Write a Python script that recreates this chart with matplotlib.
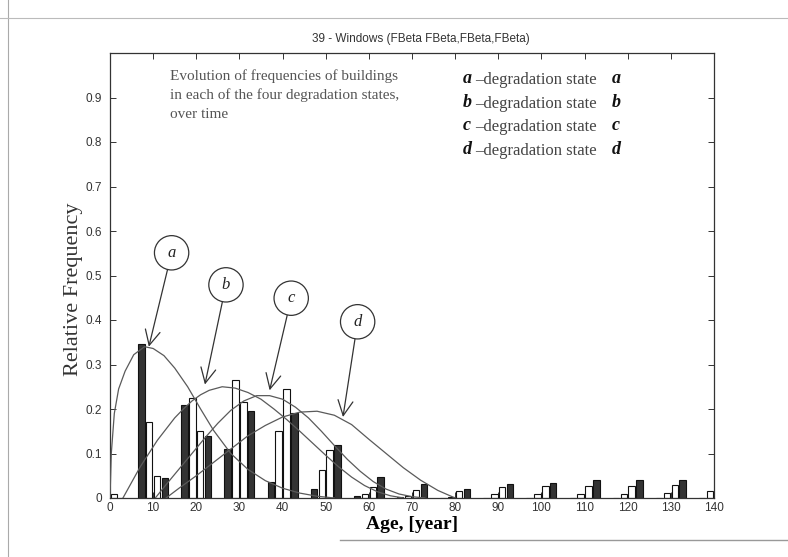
import matplotlib
matplotlib.use("Agg")
import matplotlib.pyplot as plt
from matplotlib.lines import Line2D
import numpy as np

SERIF = "Liberation Serif"
SANS = "Liberation Sans"

# ── bar data: relative frequency per degradation state, one group every 10 years
ages = [0, 10, 20, 30, 40, 50, 60, 70, 80, 90, 100, 110, 120, 130, 140]
freq_a = [0.0, 0.345, 0.21, 0.11, 0.035, 0.02, 0.005, 0.003, 0.0, 0.0, 0.0, 0.0, 0.0, 0.0, 0.0]
freq_b = [0.0, 0.17, 0.225, 0.265, 0.15, 0.063, 0.01, 0.004, 0.002, 0.009, 0.009, 0.009, 0.01, 0.011, 0.015]
freq_c = [0.01, 0.05, 0.15, 0.215, 0.245, 0.108, 0.025, 0.019, 0.015, 0.025, 0.027, 0.027, 0.028, 0.03, 0.0]
freq_d = [0.0, 0.045, 0.14, 0.195, 0.19, 0.12, 0.047, 0.031, 0.021, 0.031, 0.034, 0.04, 0.04, 0.041, 0.0]

# ── fitted beta curves
curve_a_x = [0, 0.3, 1, 2, 3.5, 5.5, 8, 10, 12.5, 15, 18, 21, 24, 28, 32, 36, 40, 44, 48, 52]
curve_a_y = [0, 0.10, 0.19, 0.245, 0.285, 0.322, 0.34, 0.336, 0.32, 0.292, 0.25, 0.2,
             0.152, 0.1, 0.064, 0.039, 0.022, 0.011, 0.004, 0]
curve_b_x = [3, 5, 7, 9, 11, 13, 15, 17, 19, 21, 23, 26, 29, 32, 35, 38, 41, 44, 47, 50,
             53, 56, 59, 62, 65, 68]
curve_b_y = [0, 0.035, 0.07, 0.1, 0.13, 0.155, 0.18, 0.2, 0.218, 0.232, 0.242, 0.25, 0.247,
             0.237, 0.222, 0.2, 0.176, 0.15, 0.123, 0.096, 0.07, 0.047, 0.028, 0.014, 0.005, 0]
curve_c_x = [10.5, 13, 16, 19, 22, 25, 28, 31, 34, 37, 40, 43, 46, 49, 52, 55, 58, 61, 64,
             67, 70, 73]
curve_c_y = [0, 0.03, 0.065, 0.1, 0.135, 0.168, 0.197, 0.218, 0.23, 0.23, 0.222, 0.204,
             0.18, 0.15, 0.118, 0.087, 0.06, 0.037, 0.02, 0.009, 0.003, 0]
curve_d_x = [13, 16, 20, 24, 28, 32, 36, 40, 44, 48, 52, 56, 60, 64, 68, 72, 76, 80]
curve_d_y = [0, 0.022, 0.05, 0.08, 0.11, 0.14, 0.163, 0.182, 0.193, 0.195, 0.186, 0.165,
             0.132, 0.1, 0.068, 0.04, 0.017, 0]

# callout targets (age, frequency) for the circled letters
callout_letters = ["a", "b", "c", "d"]
callout_tips = [(9.0, 0.34), (22, 0.255), (37, 0.242), (54, 0.182)]

x_ticks = [0, 10, 20, 30, 40, 50, 60, 70, 80, 90, 100, 110, 120, 130, 140]
y_ticks = [0, 0.1, 0.2, 0.3, 0.4, 0.5, 0.6, 0.7, 0.8, 0.9]
y_tick_labels = ["0", "0.1", "0.2", "0.3", "0.4", "0.5", "0.6", "0.7", "0.8", "0.9"]

fig = plt.figure(figsize=(7.88, 5.57), dpi=100)
fig.patch.set_facecolor("white")
ax = fig.add_axes([110 / 788, 59 / 557, 604 / 788, 445 / 557])

# grouped bars, MATLAB style (dark, light, light, dark)
step = 1.82
width = 1.5
ages_arr = np.array(ages, dtype=float)
series = [(freq_a, "#333333"), (freq_b, "white"), (freq_c, "white"), (freq_d, "#333333")]
for i, (vals, fc) in enumerate(series):
    ax.bar(ages_arr + (i - 1.5) * step, vals, width=width, color=fc,
           edgecolor="#111111", linewidth=0.8, zorder=2)

for cx, cy in [(curve_a_x, curve_a_y), (curve_b_x, curve_b_y),
               (curve_c_x, curve_c_y), (curve_d_x, curve_d_y)]:
    ax.plot(cx, cy, color="#5a5a5a", linewidth=0.9, zorder=3)

ax.set_xlim(0, 140)
ax.set_ylim(0, 1.0)
ax.set_xticks(x_ticks)
ax.set_xticklabels([str(t) for t in x_ticks], fontfamily=SANS)
ax.set_yticks(y_ticks)
ax.set_yticklabels(y_tick_labels, fontfamily=SANS)
ax.tick_params(direction="in", top=True, right=True, length=4, width=0.7,
               labelsize=8.5, colors="#333333")
ax.tick_params(axis="y", pad=6)
ax.tick_params(axis="x", pad=3)
for sp in ax.spines.values():
    sp.set_linewidth(0.9)
    sp.set_color("#333333")

ax.set_title("39 - Windows (FBeta FBeta,FBeta,FBeta)", fontsize=8.5, x=0.514,
             fontfamily=SANS, color="#333333", pad=8)
ax.set_xlabel("Age, [year]", fontsize=14, fontweight="bold", fontfamily=SERIF)
ax.xaxis.set_label_coords(0.5, -0.041)
ax.set_ylabel("Relative Frequency", fontsize=16, fontfamily=SERIF, color="#333333")
ax.yaxis.set_label_coords(-0.045, 0.47)

# note on the upper left
ax.text(0.100, 0.906, "Evolution of frequencies of buildings\nin each of the four degradation states,\nover time",
        transform=ax.transAxes, ha="left", va="center", fontsize=11, fontfamily=SERIF,
        color="#555555", linespacing=1.55)

# legend-like text block
legend_y = [0.942, 0.889, 0.836, 0.783]
for letter, ly in zip(callout_letters, legend_y):
    ax.text(0.584, ly, letter, transform=ax.transAxes, ha="left", va="center", fontsize=13,
            fontfamily=SERIF, fontstyle="italic", fontweight="bold", color="#111111")
    ax.text(0.604, ly - 0.003, "\u2013degradation state", transform=ax.transAxes, ha="left",
            va="center", fontsize=12, fontfamily=SERIF, color="#444444")
    ax.text(0.830, ly, letter, transform=ax.transAxes, ha="left", va="center", fontsize=13,
            fontfamily=SERIF, fontstyle="italic", fontweight="bold", color="#111111")

# circled letters with arrows pointing to the curves
circle_pos = [(0.102, 0.551), (0.192, 0.479), (0.300, 0.449), (0.410, 0.396)]
for letter, (cx, cy), tip in zip(callout_letters, circle_pos, callout_tips):
    ax.annotate(letter, xy=tip, xycoords="data", xytext=(cx, cy), textcoords="axes fraction",
                ha="center", va="center", fontsize=12, fontfamily=SERIF, fontstyle="italic",
                color="#222222",
                bbox=dict(boxstyle="circle,pad=0.55", fc="white", ec="#333333", lw=0.9),
                arrowprops=dict(arrowstyle="->,head_length=0.9,head_width=0.45",
                                color="#333333", lw=0.9, shrinkA=0, shrinkB=0),
                zorder=5)

# faint edges of the scanned page
fig.add_artist(Line2D([8 / 788, 8 / 788], [0, 1], color="#aaaaaa", lw=0.8))
fig.add_artist(Line2D([0, 1], [1 - 18 / 557, 1 - 18 / 557], color="#bbbbbb", lw=0.8))
fig.add_artist(Line2D([340 / 788, 1], [1 - 540 / 557, 1 - 540 / 557], color="#999999", lw=1.0))

fig.savefig("out.png", dpi=100)
